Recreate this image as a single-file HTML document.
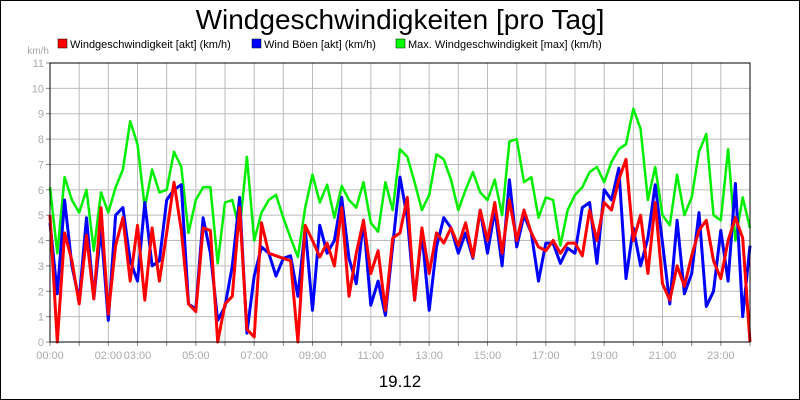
<!DOCTYPE html>
<html><head><meta charset="utf-8"><style>
body{margin:0;background:#fff;font-family:"Liberation Sans",sans-serif}
#wrap{width:798px;height:398px;border:1px solid #000;position:relative;overflow:hidden}
</style></head><body>
<div id="wrap">
<svg id="chart" width="798" height="398" font-family="Liberation Sans, sans-serif">
<text x="399" y="28" text-anchor="middle" font-size="28" fill="#000">Windgeschwindigkeiten [pro Tag]</text>
<g font-size="11">
<g><rect x="57" y="38" width="9" height="9" fill="#f00" stroke="#000" stroke-width="0.5"/><text x="69" y="47">Windgeschwindigkeit [akt] (km/h)</text></g>
<g><rect x="251" y="38" width="9" height="9" fill="#00f" stroke="#000" stroke-width="0.5"/><text x="263" y="47">Wind Böen [akt] (km/h)</text></g>
<g><rect x="395" y="38" width="9" height="9" fill="#0f0" stroke="#000" stroke-width="0.5"/><text x="407" y="47">Max. Windgeschwindigkeit [max] (km/h)</text></g>
</g>
<text x="48" y="53" text-anchor="end" font-size="10" fill="#aaa">km/h</text>
<g id="grid"></g>
<g id="yaxis"></g>
<g id="xaxis"></g>
<g id="series"></g>
<rect x="49" y="62" width="700" height="279" fill="none" stroke="#000" stroke-width="1"/>
<text x="399" y="386" text-anchor="middle" font-size="17" fill="#000">19.12</text>
</svg>
</div>
<script>
const yTicks=[0,1,2,3,4,5,6,7,8,9,10,11];
const xTickLabels=["00:00","02:00","03:00","05:00","07:00","09:00","11:00","13:00","15:00","17:00","19:00","21:00","23:00"];
const xTickHours=[0,2,3,5,7,9,11,13,15,17,19,21,23];
const maxSpeed=[6.1,3.5,6.5,5.6, 5.1,6.0,3.6,5.9, 5.1,6.1,6.8,8.7, 7.8,5.3,6.8,5.9, 6.0,7.5,6.9,4.3, 5.6,6.1,6.1,3.1, 5.5,5.6,4.4,7.3, 4.0,5.1,5.6,5.8, 4.9,4.1,3.35,5.3, 6.6,5.5,6.2,4.9, 6.15,5.6,5.3,6.3, 4.7,4.35,6.3,5.2, 7.6,7.3,6.3,5.2, 5.8,7.4,7.2,6.4, 5.2,6.0,6.7,5.9, 5.6,6.4,5.0,7.9, 8.0,6.3,6.5,4.9, 5.7,5.6,3.8,5.2, 5.8,6.1,6.7,6.9, 6.3,7.1,7.6,7.8, 9.2,8.4,5.6,6.9, 5.0,4.6,6.6,5.0, 5.7,7.5,8.2,5.0, 4.8,7.6,4.0,5.7, 4.5];
const gusts=[4.7,1.9,5.6,3.0, 1.65,4.9,1.7,4.5, 0.85,5.0,5.3,3.2, 2.4,5.5,3.0,3.2, 5.6,6.0,6.2,1.5, 1.3,4.9,3.5,0.85, 1.4,3.0,5.7,0.35, 2.6,3.75,3.5,2.6, 3.3,3.4,1.8,4.5, 1.25,4.6,3.5,4.0, 5.7,3.3,2.3,4.8, 1.45,2.4,1.05,3.8, 6.5,4.9,1.65,4.3, 1.25,3.75,4.9,4.5, 3.5,4.3,3.3,5.2, 3.5,5.2,3.0,6.4, 3.75,5.0,4.3,2.4, 3.9,3.9,3.1,3.7, 3.5,5.3,5.5,3.1, 6.0,5.6,6.85,2.5, 4.5,3.0,4.1,6.2, 3.9,1.5,4.8,1.9, 2.7,5.1,1.4,2.0, 4.4,2.4,6.25,1.0, 3.8];
const speed=[5.0,0,4.3,3.2, 1.5,4.2,1.7,5.3, 1.1,3.8,4.9,2.4, 4.6,1.65,4.5,2.4, 4.3,6.3,4.4,1.5, 1.2,4.5,4.4,0, 1.5,1.8,5.3,0.5, 0.2,4.7,3.5,3.4, 3.3,3.2,0,4.6, 4.0,3.35,3.9,3.0, 5.3,1.8,3.5,4.8, 2.7,3.6,1.25,4.1, 4.3,5.7,1.65,4.5, 2.7,4.3,3.9,4.5, 3.8,4.7,3.35,5.2, 4.0,5.5,3.5,5.6, 4.0,5.2,4.3,3.75, 3.6,4.0,3.5,3.9, 3.9,3.4,5.2,4.0, 5.5,5.2,6.4,7.2, 4.0,5.0,2.7,5.5, 2.3,1.65,3.0,2.2, 3.4,4.4,4.8,3.2, 2.5,4.0,4.9,4.1, 0];
const X0=49,X1=749,Y0=341,Y1=62,YMAX=11,HOURS=24;
const xs=h=>X0+(X1-X0)*h/HOURS;
const ys=v=>Y0-(Y0-Y1)*v/YMAX;
const NS="http://www.w3.org/2000/svg";
const grid=document.getElementById('grid'),yax=document.getElementById('yaxis'),xax=document.getElementById('xaxis'),ser=document.getElementById('series');
function mk(tag,attrs){const e=document.createElementNS(NS,tag);for(const k in attrs)e.setAttribute(k,attrs[k]);return e;}
yTicks.forEach(v=>{
  const l=mk('line',{x1:X0,x2:X1,y1:ys(v),y2:ys(v),stroke:'#bbb','stroke-width':1});
  
  
  grid.appendChild(l);
  const t=mk('line',{x1:X0-4,x2:X0,y1:ys(v),y2:ys(v),stroke:'#888'});
  
  
  yax.appendChild(t);
  const tx=mk('text',{x:X0-6,y:ys(v)+4,'text-anchor':'end','font-size':11,fill:'#aaa'});
  tx.textContent=v;
  
  
  yax.appendChild(tx);
});
for(let h=1;h<HOURS;h++){
  const l=mk('line',{x1:xs(h),x2:xs(h),y1:Y1,y2:Y0,stroke:'#bbb','stroke-width':1});
  
  
  grid.appendChild(l);
}
for(let h=0;h<=HOURS;h++){
  const t=mk('line',{x1:xs(h),x2:xs(h),y1:Y0,y2:Y0+4,stroke:'#888'});
  
  
  xax.appendChild(t);
}
xTickLabels.forEach((lab,i)=>{
  const tx=mk('text',{x:xs(xTickHours[i]),y:Y0+17,'text-anchor':'middle','font-size':11,fill:'#aaa'});
  tx.textContent=lab;
  
  
  xax.appendChild(tx);
});
function line(arr,color,w,name){
  const n=arr.length-1;
  const d=arr.map((v,i)=>(i?'L':'M')+xs(i*HOURS/n).toFixed(1)+','+ys(v).toFixed(1)).join('');
  const p=mk('path',{d:d,fill:'none',stroke:color,'stroke-width':w,'stroke-linejoin':'round'});
  
  
  ser.appendChild(p);
}
line(maxSpeed,'#00ee00',2.5,'max-speed-line');
line(gusts,'#0000ff',3,'gusts-line');
line(speed,'#ff0000',3,'speed-line');
</script>
</body></html>
